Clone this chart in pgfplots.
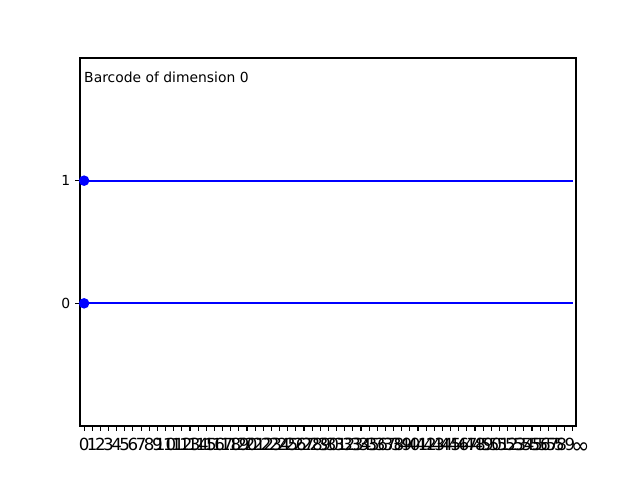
\documentclass[border=0pt]{standalone}
\usepackage{pgfplots}
\pgfplotsset{compat=1.18}
\usepackage{fontspec}
\setmainfont{DejaVu Sans}
\usetikzlibrary{calc}
\begin{document}
\begin{tikzpicture}
\begin{axis}[
  scale only axis,
  width=357.12pt, height=264.96pt,
  xmin=-0.5, xmax=60.4, ymin=-1, ymax=2,
  xtick={0,1,...,60},
  xticklabels={0,1,2,3,4,5,6,7,8,9,10,11,12,13,14,15,16,17,18,19,20,21,22,23,24,25,26,27,28,29,30,31,32,33,34,35,36,37,38,39,40,41,42,43,44,45,46,47,48,49,50,51,52,53,54,55,56,57,58,59,{\hspace*{11pt}\raisebox{-2.2pt}[8.75pt][0pt]{\fontsize{16}{16}\selectfont\symbol{"221E}}}},
  ytick={0,1},
  tick align=outside,
  xtick pos=bottom, ytick pos=left,
  major tick length=3.5pt,
  tick style={black, line width=0.8pt},
  axis line style={line width=0.8pt},
  /pgf/number format/assume math mode=true,
  x tick label style={font=\fontsize{12}{14}\selectfont, inner sep=1pt},
  y tick label style={font=\fontsize{10}{12}\selectfont},
  xticklabel style={yshift=-4pt},
]
\addplot[blue, line width=1.5pt, mark=*, mark size=3pt, mark indices={1}] coordinates {(0,0) (60,0)};
\addplot[blue, line width=1.5pt, mark=*, mark size=3pt, mark indices={1}] coordinates {(0,1) (60,1)};
\node[anchor=west, font=\fontsize{10}{12}\selectfont, inner sep=0pt] at (rel axis cs:0.008,0.948) {Barcode of dimension 0};
\end{axis}
\useasboundingbox ($(current axis.south west)+(-57.6pt,-38.88pt)$) rectangle ($(current axis.north east)+(46.08pt,41.76pt)$);
\end{tikzpicture}
\end{document}
